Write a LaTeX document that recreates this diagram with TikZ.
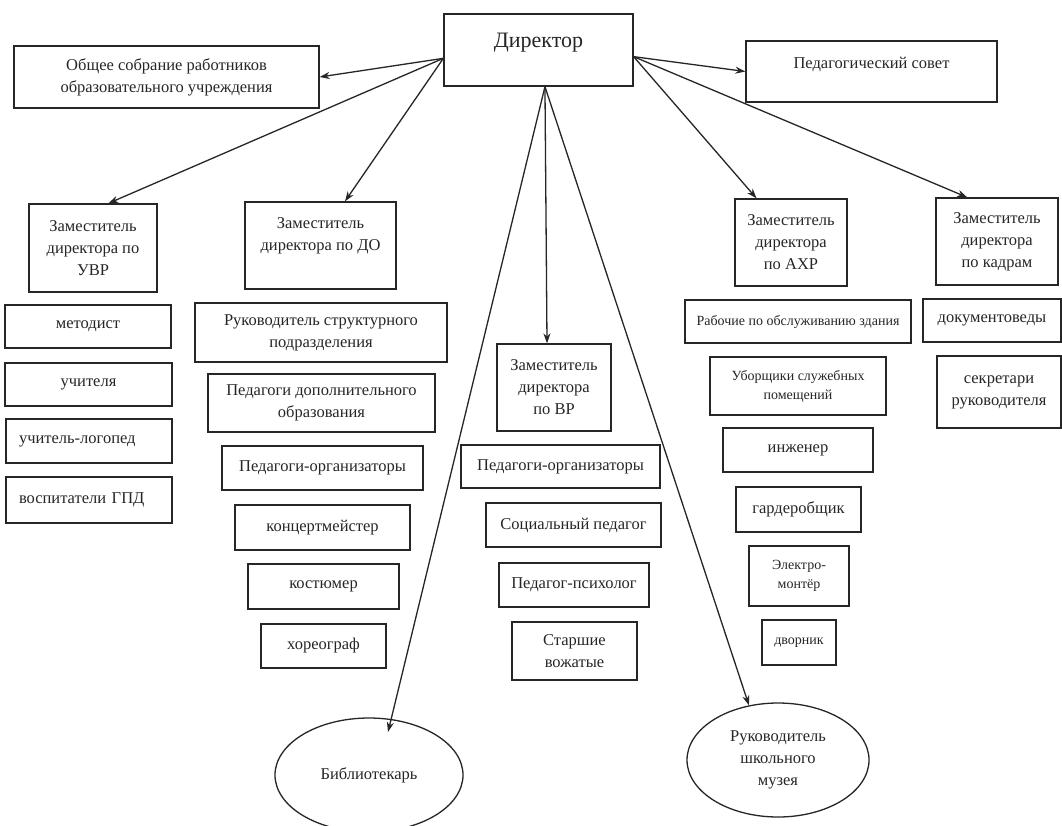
\documentclass[tikz,border=0pt]{standalone}
\usepackage{fontspec}
\setmainfont{Liberation Serif}
\usetikzlibrary{arrows.meta,shapes.geometric,calc}
\definecolor{ink}{HTML}{262626}
\tikzset{
  base/.style={draw=ink, line width=1.3pt, text=ink, inner sep=2pt, font=\fontsize{16.5}{22}\selectfont},
  box/.style={base, rectangle},
  ml/.style={align=center},
  oval/.style={base, ellipse, align=center, inner sep=0pt},
  link/.style={draw=ink, line width=1.3pt, -{Stealth[length=10pt,width=7pt]}},
  small/.style={font=\fontsize{14}{19}\selectfont},
  lefttext/.style={text width=140pt, align=left},
}
\begin{document}
\begin{tikzpicture}[x=1pt,y=-1pt]
\useasboundingbox[fill=white] (0,0) rectangle (1062,825);

% top level
\node[box, minimum width=189pt, minimum height=72pt, font=\fontsize{22}{26}\selectfont,
      text height=33pt, text depth=39pt, inner ysep=0pt] (dir) at (538.5,50) {Директор};
\node[box, ml, minimum width=305pt, minimum height=62pt] (gen) at (166.5,77)
      {Общее собрание работников\\образовательного учреждения};
\node[box, minimum width=251pt, minimum height=61pt, text height=27pt, text depth=34pt,
      inner ysep=0pt] (ps) at (871.5,71.5) {Педагогический совет};

% deputies
\node[box, ml, minimum width=128pt, minimum height=88pt] (zuvr) at (93,248) {Заместитель\\директора по\\УВР};
\node[box, ml, minimum width=151pt, minimum height=87pt] (zdo) at (320.5,245.5) {Заместитель\\директора по ДО\\~};
\node[box, ml, minimum width=114pt, minimum height=87pt] (zvr) at (554,387.5) {Заместитель\\директора\\по ВР};
\node[box, ml, minimum width=112pt, minimum height=87pt] (zahr) at (791,242.5) {Заместитель\\директора\\по АХР};
\node[box, ml, minimum width=122pt, minimum height=87pt] (zkadr) at (997,241.5) {Заместитель\\директора\\по кадрам};

% UVR column
\node[box, minimum width=166pt, minimum height=43pt] (met) at (88,326.5) {методист};
\node[box, minimum width=167pt, minimum height=43pt] (uch) at (88.5,384.5) {учителя};
\node[box, lefttext, minimum width=166pt, minimum height=44pt] (log) at (89,441) {учитель-логопед};
\node[box, lefttext, minimum width=166pt, minimum height=46pt] (gpd) at (89,500) {воспитатели ГПД};

% DO column
\node[box, ml, minimum width=252pt, minimum height=59pt] (rsp) at (321,332.5) {Руководитель структурного\\подразделения};
\node[box, ml, minimum width=227pt, minimum height=58pt] (pdo) at (321.5,403) {Педагоги дополнительного\\образования};
\node[box, minimum width=201pt, minimum height=44pt] (porga) at (322.5,468) {Педагоги-организаторы};
\node[box, minimum width=175pt, minimum height=45pt] (konc) at (322.5,527.5) {концертмейстер};
\node[box, minimum width=151pt, minimum height=45pt] (kost) at (323.5,586.5) {костюмер};
\node[box, minimum width=125pt, minimum height=44pt] (hor) at (323.5,646) {хореограф};

% VR column
\node[box, minimum width=199pt, minimum height=43pt] (porgb) at (560.5,466.5) {Педагоги-организаторы};
\node[box, minimum width=175pt, minimum height=44pt] (soc) at (573.5,525) {Социальный педагог};
\node[box, minimum width=150pt, minimum height=44pt] (psy) at (574,585) {Педагог-психолог};
\node[box, ml, minimum width=125pt, minimum height=58pt] (vozh) at (574.5,651) {Старшие\\вожатые};

% AHR column
\node[box, small, minimum width=226pt, minimum height=43pt] (rab) at (798,321.5) {Рабочие по обслуживанию здания};
\node[box, small, ml, minimum width=176pt, minimum height=58pt] (ubor) at (798,386) {Уборщики служебных\\помещений};
\node[box, minimum width=150pt, minimum height=44pt] (ing) at (798,450) {инженер};
\node[box, minimum width=125pt, minimum height=45pt] (gard) at (798.5,509.5) {гардеробщик};
\node[box, small, ml, minimum width=100pt, minimum height=60pt] (elek) at (799,576) {Электро-\\монтёр};
\node[box, small, minimum width=74pt, minimum height=45pt] (dvor) at (799,642.5) {дворник};

% cadres column
\node[box, minimum width=138pt, minimum height=43pt] (doc) at (992,320.5) {документоведы};
\node[box, ml, minimum width=124pt, minimum height=72pt] (sek) at (999,392) {секретари\\руководителя};

% ellipses
\node[oval, minimum width=188pt, minimum height=114pt] (lib) at (369,775) {Библиотекарь};
\node[oval, minimum width=182pt, minimum height=114pt] (mus) at (778,760) {Руководитель\\школьного\\музея};
\coordinate (libtip) at ($(lib.center)+(19,-43)$);

% connectors
\draw[link] (dir.185) -- (gen.east);
\draw[link] (dir.185) -- (zuvr.71);
\draw[link] (dir.185) -- (zdo.61);
\draw[link] (dir.-4) -- (ps.west);
\draw[link] (dir.-4) -- (zahr.128);
\draw[link] (dir.-4) -- (zkadr.124);
\draw[link] (dir.-80) -- (zvr.99);
\draw[link] (dir.-80) -- (libtip);
\draw[link] (dir.-80) -- (mus.118);
\end{tikzpicture}
\end{document}
